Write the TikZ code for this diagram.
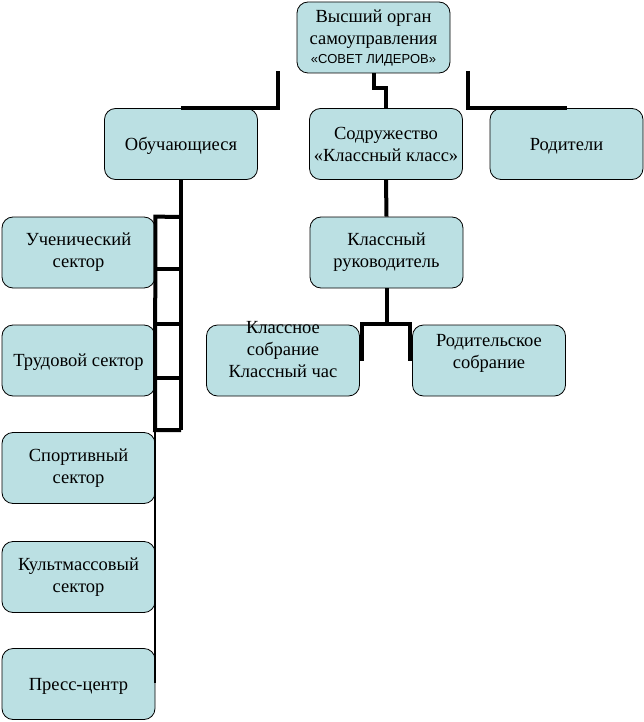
\documentclass[tikz,border=0pt]{standalone}
\usepackage{fontspec}
\setmainfont{Liberation Serif}
\newfontfamily\arialfont{Liberation Sans}
\definecolor{boxblue}{RGB}{187,224,227}
\newcommand{\lift}[1]{\rule[-#1]{0pt}{#1}}

\begin{document}
\begin{tikzpicture}[x=1pt,y=-1pt,
        box/.style = {draw, fill=boxblue, rounded corners=11pt, line width=0.8pt,
          minimum width=153pt, minimum height=71pt, align=center,
          inner sep=2pt, font=\fontsize{18.5}{22}\selectfont},
        oneline/.style = {box, text depth=0pt},
        link/.style = {line width=4pt},
        thinlink/.style = {line width=2pt}]
    \useasboundingbox (0,0) rectangle (644,722);
    \node [box] (sovet) at (373.5,37.5) {Высший орган\\самоуправления\\[-3pt]{\arialfont\fontsize{13}{15}\selectfont «СОВЕТ ЛИДЕРОВ»}};
    \node [oneline] (obuch) at (181,144) {Обучающиеся};
    \node [box] (sodr) at (386,144) {Содружество\\«Классный класс»};
    \node [oneline] (rodit) at (566.5,144) {Родители};
    \node [box] (uchen) at (78.5,252.5) {Ученический\\сектор};
    \node [oneline] (trud) at (78.5,360.5) {Трудовой сектор};
    \node [box] (sport) at (78.5,468) {Спортивный\\сектор};
    \node [box] (kult) at (78.5,577) {Культмассовый\\сектор};
    \node [oneline] (press) at (78.5,684) {Пресс-центр};
    \node [box] (klruk) at (386.5,252.5) {Классный\\руководитель};
    \node [box] (klsobr) at (283,360.5) {\raisebox{5.5pt}[0pt][0pt]{\begin{tabular}{@{}c@{}}Классное\\собрание\\Классный час\end{tabular}}};
    \node [box] (rodsobr) at (489,360.5) {Родительское\\собрание\lift{19pt}};
    % links from the top
    \coordinate (t1) at (278,71);
    \coordinate (t3) at (468,71);
    \draw[link] (obuch.north) -| (t1);
    \draw[link] (sovet.south) -- ++(0,15) -| (sodr.north);
    \draw[link] (t3) |- (rodit.north);
    % pupils ladder
    \coordinate (spine) at (181,430);
    \draw[link] (obuch.south) -- (spine);
    \draw[link] (181,217) -- (uchen.north east) -- (155,430) -- (spine);
    \foreach \y in {269,324,378}
      \draw[link] (155,\y) -- (181,\y);
    \draw[thinlink] (155,430) -- (155,683);
    % class teacher
    \draw[link] (sodr.south) -- (klruk.north);
    \draw[link] (klruk.south) -- ++(0,36) coordinate (fork);
    \draw[link] ([xshift=2pt]klsobr.east) |- (fork) -| ([xshift=-2pt]rodsobr.west);
\end{tikzpicture}
\end{document}
